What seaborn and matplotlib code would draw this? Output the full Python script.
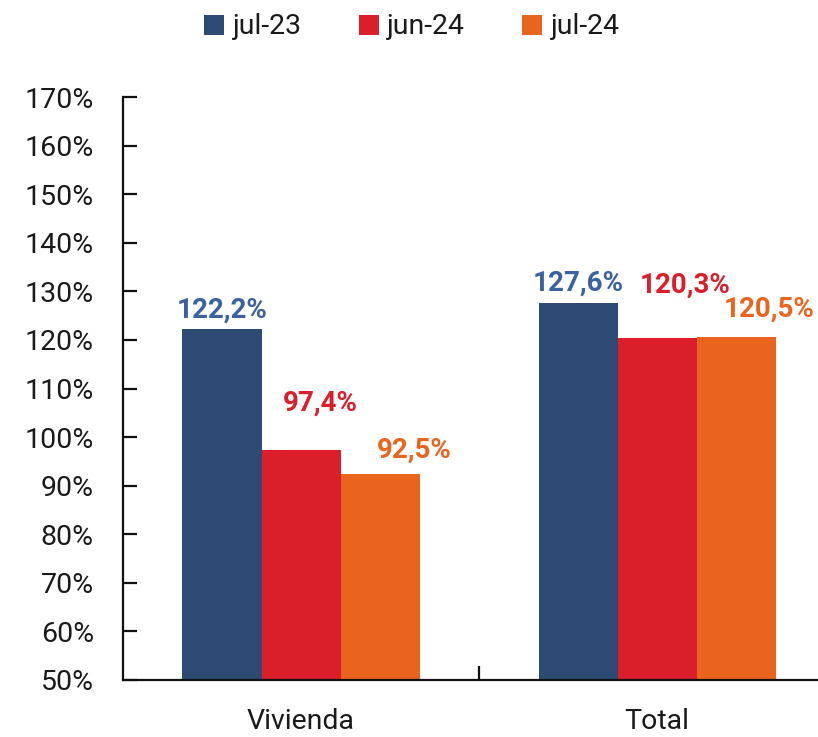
import matplotlib
matplotlib.use("Agg")
import matplotlib.pyplot as plt
from matplotlib import font_manager
import seaborn as sns
import pandas as pd

categories = ["Vivienda", "Total"]
periods = ["jul-23", "jun-24", "jul-24"]
values_jul23 = [122.2, 127.6]
values_jun24 = [97.4, 120.3]
values_jul24 = [92.5, 120.5]
y_ticks = [50, 60, 70, 80, 90, 100, 110, 120, 130, 140, 150, 160, 170]

bar_colors = ["#2D4A74", "#DA1F2B", "#E9651E"]
label_colors = ["#3A62A0", "#DA1F2B", "#E9651E"]

# label offsets (pixels) from the top centre of each bar, per period
label_offsets = {
    "jul-23": [(0, 19), (0, 20)],
    "jun-24": [(19, 47), (28, 53)],
    "jul-24": [(34, 23), (33, 28)],
}

sns.set_theme(style="white")
available = {f.name for f in font_manager.fontManager.ttflist}
family = [f for f in ["Roboto", "DejaVu Sans"] if f in available]
plt.rcParams["font.family"] = family

df = pd.DataFrame({
    "categoria": categories * 3,
    "periodo": [p for p in periods for _ in categories],
    "valor": values_jul23 + values_jun24 + values_jul24,
})

fig = plt.figure(figsize=(8.18, 7.37), dpi=100)
ax = fig.add_axes([123 / 818, 1 - 680 / 737, 1 - 123 / 818, (680 - 97) / 737])

sns.barplot(data=df, x="categoria", y="valor", hue="periodo", order=categories,
            hue_order=periods, palette=bar_colors, width=0.666, gap=0,
            saturation=1, ax=ax, legend=True, edgecolor="none")

ax.set_ylim(50, 170)
ax.set_xlim(-0.5, 1.452)
ax.set_yticks(y_ticks)
ax.set_yticklabels([f"{t}%" for t in y_ticks])
ax.set_xticks([0.5], minor=False)
ax.set_xticks([0, 1], minor=True)
ax.set_xticklabels([])
ax.set_xticklabels(categories, minor=True)
ax.set_xlabel("")
ax.set_ylabel("")

for s in ["top", "right"]:
    ax.spines[s].set_visible(False)
for s in ["left", "bottom"]:
    ax.spines[s].set_color("#111111")
    ax.spines[s].set_linewidth(1.6)

ax.tick_params(axis="y", direction="in", length=10, width=1.6, color="#111111",
               labelsize=20.5, labelcolor="#1a1a1a", pad=21, left=True)
ax.tick_params(axis="x", which="major", direction="in", length=10, width=1.6,
               color="#111111", bottom=True)
ax.tick_params(axis="x", which="minor", length=0, labelsize=20.5,
               labelcolor="#1a1a1a", pad=20)

px = 72 / 100
for cont, period, lcol in zip(ax.containers, periods, label_colors):
    for bar, (dx, dy) in zip(cont, label_offsets[period]):
        val = bar.get_height()
        ax.annotate(f"{val:.1f}%".replace(".", ","),
                    xy=(bar.get_x() + bar.get_width() / 2, val),
                    xytext=(dx * px, dy * px), textcoords="offset points",
                    ha="center", va="center", fontsize=20, fontweight="bold",
                    color=lcol)

leg = ax.legend(loc="center", bbox_to_anchor=(412 / 818, 1 - 27 / 737),
                bbox_transform=fig.transFigure, ncol=3, frameon=False,
                fontsize=20.5, handlelength=0.7, handleheight=0.7,
                handletextpad=0.3, columnspacing=2.0, title=None)
for t in leg.get_texts():
    t.set_color("#1a1a1a")

fig.savefig("out.png", dpi=100)
